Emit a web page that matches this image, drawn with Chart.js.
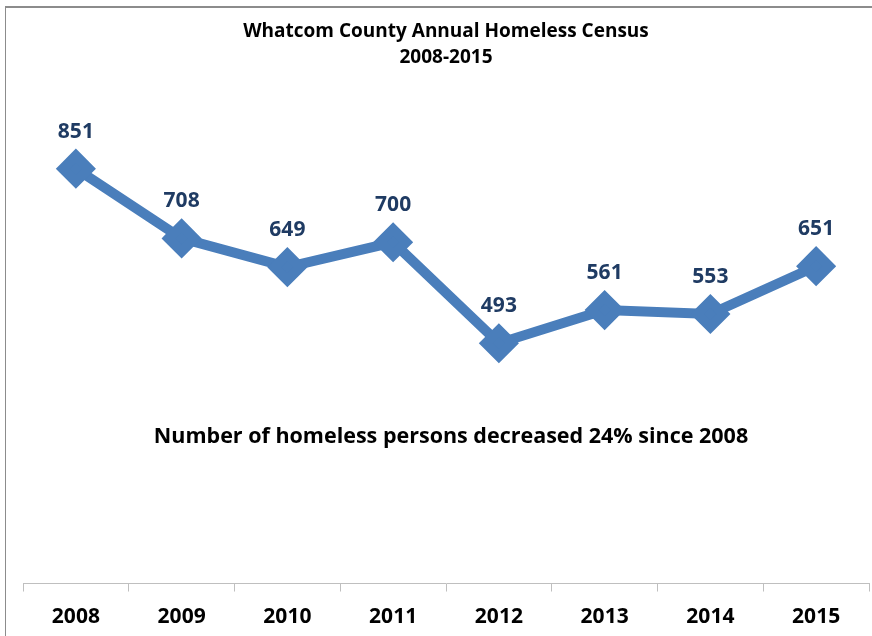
<!DOCTYPE html>
<html>
<head>
<meta charset="utf-8">
<script src="https://cdn.jsdelivr.net/npm/chart.js@4"></script>
<style>
    body { margin: 0; background: #fff; }
    #wrap { position: relative; width: 872px; height: 636px; overflow: hidden; }
    /* chart frame, right and bottom edges are cut off in the original */
    #frame { position: absolute; left: 5px; top: 6px; width: 900px; height: 700px;
             border-left: 1px solid #8c8c8c; border-top: 2px solid #8c8c8c; }
    canvas { position: absolute; left: 0; top: 0; }
</style>
</head>
<body>
<div id="wrap">
    <div id="frame"></div>
    <!-- a few px taller than the window, the empty strip under the labels is clipped -->
    <canvas id="census" width="872" height="642"></canvas>
</div>
<script>
// data
const years = ['2008', '2009', '2010', '2011', '2012', '2013', '2014', '2015'];
const homelessCount = [851, 708, 649, 700, 493, 561, 553, 651];
const titleLines = ['Whatcom County Annual Homeless Census', '2008-2015'];
const noteText = 'Number of homeless persons decreased 24% since 2008';

const lineColor = '#4A7EBB';
const labelColor = '#1F3B63';
const fontName = '"Open Sans"';

// value labels above each point
const valueLabels = {
    id: 'valueLabels',
    afterDatasetsDraw(chart) {
        const ctx = chart.ctx;
        const meta = chart.getDatasetMeta(0);
        ctx.save();
        ctx.font = 'bold 21px ' + fontName;
        ctx.fillStyle = labelColor;
        ctx.textAlign = 'center';
        ctx.textBaseline = 'middle';
        meta.data.forEach((pt, i) => {
            ctx.fillText(homelessCount[i], pt.x, pt.y - 37);
        });
        ctx.restore();
    }
};

// note text in the middle of the plot
const noteLabel = {
    id: 'noteLabel',
    afterDraw(chart) {
        const ctx = chart.ctx;
        const area = chart.chartArea;
        ctx.save();
        ctx.font = 'bold 21.5px ' + fontName;
        ctx.fillStyle = '#000';
        ctx.textAlign = 'center';
        ctx.textBaseline = 'middle';
        ctx.fillText(noteText, (area.left + area.right) / 2 + 5, 437);
        ctx.restore();
    }
};

new Chart(document.getElementById('census'), {
    type: 'line',
    data: {
        labels: years,
        datasets: [{
            data: homelessCount,
            borderColor: lineColor,
            backgroundColor: lineColor,
            borderWidth: 10,
            pointStyle: 'rectRot',
            pointRadius: 13,
            pointHoverRadius: 13,
            tension: 0,
            fill: false
        }]
    },
    options: {
        responsive: false,
        animation: false,
        layout: { autoPadding: false, padding: { left: 23, right: 3, top: 0, bottom: 0 } },
        plugins: {
            legend: { display: false },
            tooltip: { enabled: false },
            title: {
                display: true,
                text: titleLines,
                color: '#000',
                font: { family: fontName, size: 19, weight: 'bold', lineHeight: 1.37 },
                padding: { top: 19, bottom: 25 }
            }
        },
        scales: {
            x: {
                offset: true,
                grid: {
                    offset: true,
                    drawOnChartArea: false,
                    drawTicks: true,
                    tickLength: 8,
                    color: '#bfbfbf'
                },
                border: { color: '#bfbfbf', width: 1 },
                ticks: {
                    color: '#000',
                    padding: 16,
                    font: { family: fontName, size: 21, weight: 'bold', lineHeight: 0.88 }
                }
            },
            y: {
                display: false,
                min: 0,
                max: 1000
            }
        }
    },
    plugins: [valueLabels, noteLabel]
});
</script>
</body>
</html>
